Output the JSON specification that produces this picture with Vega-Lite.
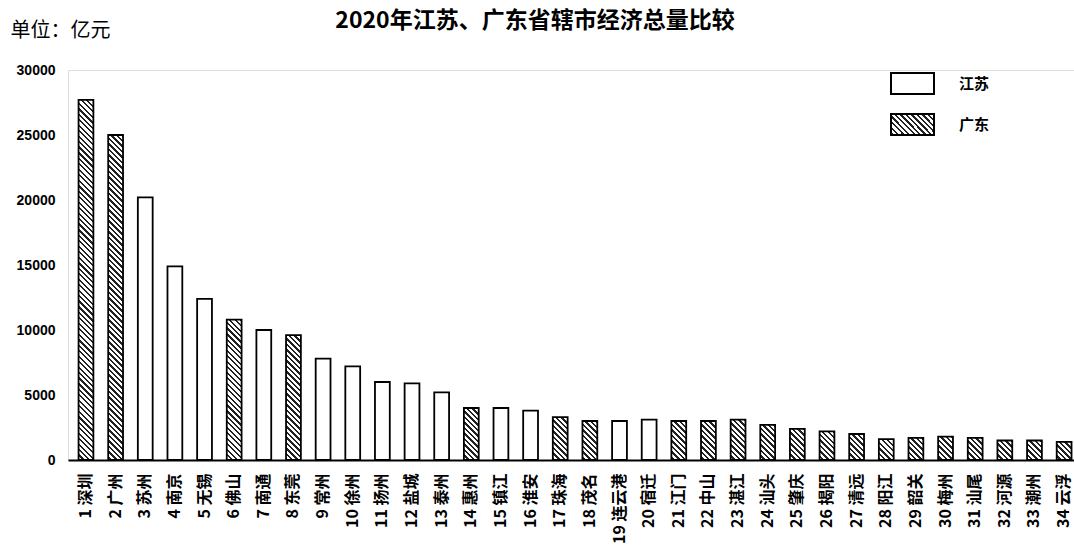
{
  "$schema": "https://vega.github.io/schema/vega-lite/v6.json",
  "autosize": "none",
  "width": 1006,
  "height": 390,
  "padding": {"left": 68, "top": 70, "right": 0, "bottom": 95},
  "background": "white",
  "title": {
    "text": "2020年江苏、广东省辖市经济总量比较",
    "anchor": "middle",
    "frame": "group",
    "dx": -36,
    "dy": 17,
    "font": "Noto Sans CJK SC",
    "fontSize": 23,
    "fontWeight": "bold",
    "color": "black"
  },
  "params": [
    {
      "name": "hatch",
      "value": [
        {"offset":0,"color":"#222"},{"offset":0.0064,"color":"#222"},{"offset":0.0064,"color":"#fff"},{"offset":0.0143,"color":"#fff"},
        {"offset":0.0143,"color":"#222"},{"offset":0.0207,"color":"#222"},{"offset":0.0207,"color":"#fff"},{"offset":0.0286,"color":"#fff"},
        {"offset":0.0286,"color":"#222"},{"offset":0.035,"color":"#222"},{"offset":0.035,"color":"#fff"},{"offset":0.0429,"color":"#fff"},
        {"offset":0.0429,"color":"#222"},{"offset":0.0493,"color":"#222"},{"offset":0.0493,"color":"#fff"},{"offset":0.0571,"color":"#fff"},
        {"offset":0.0571,"color":"#222"},{"offset":0.0636,"color":"#222"},{"offset":0.0636,"color":"#fff"},{"offset":0.0714,"color":"#fff"},
        {"offset":0.0714,"color":"#222"},{"offset":0.0779,"color":"#222"},{"offset":0.0779,"color":"#fff"},{"offset":0.0857,"color":"#fff"},
        {"offset":0.0857,"color":"#222"},{"offset":0.0921,"color":"#222"},{"offset":0.0921,"color":"#fff"},{"offset":0.1,"color":"#fff"},
        {"offset":0.1,"color":"#222"},{"offset":0.1064,"color":"#222"},{"offset":0.1064,"color":"#fff"},{"offset":0.1143,"color":"#fff"},
        {"offset":0.1143,"color":"#222"},{"offset":0.1207,"color":"#222"},{"offset":0.1207,"color":"#fff"},{"offset":0.1286,"color":"#fff"},
        {"offset":0.1286,"color":"#222"},{"offset":0.135,"color":"#222"},{"offset":0.135,"color":"#fff"},{"offset":0.1429,"color":"#fff"},
        {"offset":0.1429,"color":"#222"},{"offset":0.1493,"color":"#222"},{"offset":0.1493,"color":"#fff"},{"offset":0.1571,"color":"#fff"},
        {"offset":0.1571,"color":"#222"},{"offset":0.1636,"color":"#222"},{"offset":0.1636,"color":"#fff"},{"offset":0.1714,"color":"#fff"},
        {"offset":0.1714,"color":"#222"},{"offset":0.1779,"color":"#222"},{"offset":0.1779,"color":"#fff"},{"offset":0.1857,"color":"#fff"},
        {"offset":0.1857,"color":"#222"},{"offset":0.1921,"color":"#222"},{"offset":0.1921,"color":"#fff"},{"offset":0.2,"color":"#fff"},
        {"offset":0.2,"color":"#222"},{"offset":0.2064,"color":"#222"},{"offset":0.2064,"color":"#fff"},{"offset":0.2143,"color":"#fff"},
        {"offset":0.2143,"color":"#222"},{"offset":0.2207,"color":"#222"},{"offset":0.2207,"color":"#fff"},{"offset":0.2286,"color":"#fff"},
        {"offset":0.2286,"color":"#222"},{"offset":0.235,"color":"#222"},{"offset":0.235,"color":"#fff"},{"offset":0.2429,"color":"#fff"},
        {"offset":0.2429,"color":"#222"},{"offset":0.2493,"color":"#222"},{"offset":0.2493,"color":"#fff"},{"offset":0.2571,"color":"#fff"},
        {"offset":0.2571,"color":"#222"},{"offset":0.2636,"color":"#222"},{"offset":0.2636,"color":"#fff"},{"offset":0.2714,"color":"#fff"},
        {"offset":0.2714,"color":"#222"},{"offset":0.2779,"color":"#222"},{"offset":0.2779,"color":"#fff"},{"offset":0.2857,"color":"#fff"},
        {"offset":0.2857,"color":"#222"},{"offset":0.2921,"color":"#222"},{"offset":0.2921,"color":"#fff"},{"offset":0.3,"color":"#fff"},
        {"offset":0.3,"color":"#222"},{"offset":0.3064,"color":"#222"},{"offset":0.3064,"color":"#fff"},{"offset":0.3143,"color":"#fff"},
        {"offset":0.3143,"color":"#222"},{"offset":0.3207,"color":"#222"},{"offset":0.3207,"color":"#fff"},{"offset":0.3286,"color":"#fff"},
        {"offset":0.3286,"color":"#222"},{"offset":0.335,"color":"#222"},{"offset":0.335,"color":"#fff"},{"offset":0.3429,"color":"#fff"},
        {"offset":0.3429,"color":"#222"},{"offset":0.3493,"color":"#222"},{"offset":0.3493,"color":"#fff"},{"offset":0.3571,"color":"#fff"},
        {"offset":0.3571,"color":"#222"},{"offset":0.3636,"color":"#222"},{"offset":0.3636,"color":"#fff"},{"offset":0.3714,"color":"#fff"},
        {"offset":0.3714,"color":"#222"},{"offset":0.3779,"color":"#222"},{"offset":0.3779,"color":"#fff"},{"offset":0.3857,"color":"#fff"},
        {"offset":0.3857,"color":"#222"},{"offset":0.3921,"color":"#222"},{"offset":0.3921,"color":"#fff"},{"offset":0.4,"color":"#fff"},
        {"offset":0.4,"color":"#222"},{"offset":0.4064,"color":"#222"},{"offset":0.4064,"color":"#fff"},{"offset":0.4143,"color":"#fff"},
        {"offset":0.4143,"color":"#222"},{"offset":0.4207,"color":"#222"},{"offset":0.4207,"color":"#fff"},{"offset":0.4286,"color":"#fff"},
        {"offset":0.4286,"color":"#222"},{"offset":0.435,"color":"#222"},{"offset":0.435,"color":"#fff"},{"offset":0.4429,"color":"#fff"},
        {"offset":0.4429,"color":"#222"},{"offset":0.4493,"color":"#222"},{"offset":0.4493,"color":"#fff"},{"offset":0.4571,"color":"#fff"},
        {"offset":0.4571,"color":"#222"},{"offset":0.4636,"color":"#222"},{"offset":0.4636,"color":"#fff"},{"offset":0.4714,"color":"#fff"},
        {"offset":0.4714,"color":"#222"},{"offset":0.4779,"color":"#222"},{"offset":0.4779,"color":"#fff"},{"offset":0.4857,"color":"#fff"},
        {"offset":0.4857,"color":"#222"},{"offset":0.4921,"color":"#222"},{"offset":0.4921,"color":"#fff"},{"offset":0.5,"color":"#fff"},
        {"offset":0.5,"color":"#222"},{"offset":0.5064,"color":"#222"},{"offset":0.5064,"color":"#fff"},{"offset":0.5143,"color":"#fff"},
        {"offset":0.5143,"color":"#222"},{"offset":0.5207,"color":"#222"},{"offset":0.5207,"color":"#fff"},{"offset":0.5286,"color":"#fff"},
        {"offset":0.5286,"color":"#222"},{"offset":0.535,"color":"#222"},{"offset":0.535,"color":"#fff"},{"offset":0.5429,"color":"#fff"},
        {"offset":0.5429,"color":"#222"},{"offset":0.5493,"color":"#222"},{"offset":0.5493,"color":"#fff"},{"offset":0.5571,"color":"#fff"},
        {"offset":0.5571,"color":"#222"},{"offset":0.5636,"color":"#222"},{"offset":0.5636,"color":"#fff"},{"offset":0.5714,"color":"#fff"},
        {"offset":0.5714,"color":"#222"},{"offset":0.5779,"color":"#222"},{"offset":0.5779,"color":"#fff"},{"offset":0.5857,"color":"#fff"},
        {"offset":0.5857,"color":"#222"},{"offset":0.5921,"color":"#222"},{"offset":0.5921,"color":"#fff"},{"offset":0.6,"color":"#fff"},
        {"offset":0.6,"color":"#222"},{"offset":0.6064,"color":"#222"},{"offset":0.6064,"color":"#fff"},{"offset":0.6143,"color":"#fff"},
        {"offset":0.6143,"color":"#222"},{"offset":0.6207,"color":"#222"},{"offset":0.6207,"color":"#fff"},{"offset":0.6286,"color":"#fff"},
        {"offset":0.6286,"color":"#222"},{"offset":0.635,"color":"#222"},{"offset":0.635,"color":"#fff"},{"offset":0.6429,"color":"#fff"},
        {"offset":0.6429,"color":"#222"},{"offset":0.6493,"color":"#222"},{"offset":0.6493,"color":"#fff"},{"offset":0.6571,"color":"#fff"},
        {"offset":0.6571,"color":"#222"},{"offset":0.6636,"color":"#222"},{"offset":0.6636,"color":"#fff"},{"offset":0.6714,"color":"#fff"},
        {"offset":0.6714,"color":"#222"},{"offset":0.6779,"color":"#222"},{"offset":0.6779,"color":"#fff"},{"offset":0.6857,"color":"#fff"},
        {"offset":0.6857,"color":"#222"},{"offset":0.6921,"color":"#222"},{"offset":0.6921,"color":"#fff"},{"offset":0.7,"color":"#fff"},
        {"offset":0.7,"color":"#222"},{"offset":0.7064,"color":"#222"},{"offset":0.7064,"color":"#fff"},{"offset":0.7143,"color":"#fff"},
        {"offset":0.7143,"color":"#222"},{"offset":0.7207,"color":"#222"},{"offset":0.7207,"color":"#fff"},{"offset":0.7286,"color":"#fff"},
        {"offset":0.7286,"color":"#222"},{"offset":0.735,"color":"#222"},{"offset":0.735,"color":"#fff"},{"offset":0.7429,"color":"#fff"},
        {"offset":0.7429,"color":"#222"},{"offset":0.7493,"color":"#222"},{"offset":0.7493,"color":"#fff"},{"offset":0.7571,"color":"#fff"},
        {"offset":0.7571,"color":"#222"},{"offset":0.7636,"color":"#222"},{"offset":0.7636,"color":"#fff"},{"offset":0.7714,"color":"#fff"},
        {"offset":0.7714,"color":"#222"},{"offset":0.7779,"color":"#222"},{"offset":0.7779,"color":"#fff"},{"offset":0.7857,"color":"#fff"},
        {"offset":0.7857,"color":"#222"},{"offset":0.7921,"color":"#222"},{"offset":0.7921,"color":"#fff"},{"offset":0.8,"color":"#fff"},
        {"offset":0.8,"color":"#222"},{"offset":0.8064,"color":"#222"},{"offset":0.8064,"color":"#fff"},{"offset":0.8143,"color":"#fff"},
        {"offset":0.8143,"color":"#222"},{"offset":0.8207,"color":"#222"},{"offset":0.8207,"color":"#fff"},{"offset":0.8286,"color":"#fff"},
        {"offset":0.8286,"color":"#222"},{"offset":0.835,"color":"#222"},{"offset":0.835,"color":"#fff"},{"offset":0.8429,"color":"#fff"},
        {"offset":0.8429,"color":"#222"},{"offset":0.8493,"color":"#222"},{"offset":0.8493,"color":"#fff"},{"offset":0.8571,"color":"#fff"},
        {"offset":0.8571,"color":"#222"},{"offset":0.8636,"color":"#222"},{"offset":0.8636,"color":"#fff"},{"offset":0.8714,"color":"#fff"},
        {"offset":0.8714,"color":"#222"},{"offset":0.8779,"color":"#222"},{"offset":0.8779,"color":"#fff"},{"offset":0.8857,"color":"#fff"},
        {"offset":0.8857,"color":"#222"},{"offset":0.8921,"color":"#222"},{"offset":0.8921,"color":"#fff"},{"offset":0.9,"color":"#fff"},
        {"offset":0.9,"color":"#222"},{"offset":0.9064,"color":"#222"},{"offset":0.9064,"color":"#fff"},{"offset":0.9143,"color":"#fff"},
        {"offset":0.9143,"color":"#222"},{"offset":0.9207,"color":"#222"},{"offset":0.9207,"color":"#fff"},{"offset":0.9286,"color":"#fff"},
        {"offset":0.9286,"color":"#222"},{"offset":0.935,"color":"#222"},{"offset":0.935,"color":"#fff"},{"offset":0.9429,"color":"#fff"},
        {"offset":0.9429,"color":"#222"},{"offset":0.9493,"color":"#222"},{"offset":0.9493,"color":"#fff"},{"offset":0.9571,"color":"#fff"},
        {"offset":0.9571,"color":"#222"},{"offset":0.9636,"color":"#222"},{"offset":0.9636,"color":"#fff"},{"offset":0.9714,"color":"#fff"},
        {"offset":0.9714,"color":"#222"},{"offset":0.9779,"color":"#222"},{"offset":0.9779,"color":"#fff"},{"offset":0.9857,"color":"#fff"},
        {"offset":0.9857,"color":"#222"},{"offset":0.9921,"color":"#222"},{"offset":0.9921,"color":"#fff"},{"offset":1,"color":"#fff"}
      ]
    }
  ],
  "data": {
    "values": [
      {"label": "1 深圳", "prov": "广东", "gdp": 27700},
      {"label": "2 广州", "prov": "广东", "gdp": 25000},
      {"label": "3 苏州", "prov": "江苏", "gdp": 20200},
      {"label": "4 南京", "prov": "江苏", "gdp": 14900},
      {"label": "5 无锡", "prov": "江苏", "gdp": 12400},
      {"label": "6 佛山", "prov": "广东", "gdp": 10800},
      {"label": "7 南通", "prov": "江苏", "gdp": 10000},
      {"label": "8 东莞", "prov": "广东", "gdp": 9600},
      {"label": "9 常州", "prov": "江苏", "gdp": 7800},
      {"label": "10 徐州", "prov": "江苏", "gdp": 7200},
      {"label": "11 扬州", "prov": "江苏", "gdp": 6000},
      {"label": "12 盐城", "prov": "江苏", "gdp": 5900},
      {"label": "13 泰州", "prov": "江苏", "gdp": 5200},
      {"label": "14 惠州", "prov": "广东", "gdp": 4000},
      {"label": "15 镇江", "prov": "江苏", "gdp": 4000},
      {"label": "16 淮安", "prov": "江苏", "gdp": 3800},
      {"label": "17 珠海", "prov": "广东", "gdp": 3300},
      {"label": "18 茂名", "prov": "广东", "gdp": 3000},
      {"label": "19 连云港", "prov": "江苏", "gdp": 3000},
      {"label": "20 宿迁", "prov": "江苏", "gdp": 3100},
      {"label": "21 江门", "prov": "广东", "gdp": 3000},
      {"label": "22 中山", "prov": "广东", "gdp": 3000},
      {"label": "23 湛江", "prov": "广东", "gdp": 3100},
      {"label": "24 汕头", "prov": "广东", "gdp": 2700},
      {"label": "25 肇庆", "prov": "广东", "gdp": 2400},
      {"label": "26 揭阳", "prov": "广东", "gdp": 2200},
      {"label": "27 清远", "prov": "广东", "gdp": 2000},
      {"label": "28 阳江", "prov": "广东", "gdp": 1600},
      {"label": "29 韶关", "prov": "广东", "gdp": 1700},
      {"label": "30 梅州", "prov": "广东", "gdp": 1800},
      {"label": "31 汕尾", "prov": "广东", "gdp": 1700},
      {"label": "32 河源", "prov": "广东", "gdp": 1500},
      {"label": "33 潮州", "prov": "广东", "gdp": 1500},
      {"label": "34 云浮", "prov": "广东", "gdp": 1400}
    ]
  },
  "mark": {
    "type": "bar",
    "strokeWidth": 1.8,
    "fill": {
      "expr": "datum.prov == '广东' ? {gradient: 'linear', x1: 1, y1: 0, x2: 1 - 385 * bandwidth('x') / (pow(bandwidth('x'), 2) + pow(scale('y', 0) - scale('y', datum.gdp), 2)), y2: 385 * (scale('y', 0) - scale('y', datum.gdp)) / (pow(bandwidth('x'), 2) + pow(scale('y', 0) - scale('y', datum.gdp), 2)), stops: hatch} : datum.value == '广东' ? {gradient: 'linear', x1: 1, y1: 0, x2: -6.229, y2: 3.531, stops: hatch} : 'white'"
    }
  },
  "encoding": {
    "x": {
      "field": "label",
      "type": "nominal",
      "sort": null,
      "scale": {"paddingInner": 0.5, "paddingOuter": 0.22, "align": 0.81},
      "axis": {
        "title": null,
        "domainColor": "black",
        "domainWidth": 2,
        "ticks": false,
        "tickSize": 0,
        "labelAngle": 270,
        "labelAlign": "right",
        "labelBaseline": "middle",
        "labelPadding": 13,
        "labelOverlap": false,
        "labelFont": "Noto Sans CJK SC",
        "labelFontSize": 16,
        "labelFontWeight": "bold",
        "labelColor": "black"
      }
    },
    "y": {
      "field": "gdp",
      "type": "quantitative",
      "scale": {"domain": [0, 30000], "nice": false},
      "axis": {
        "title": "单位：亿元",
        "titleAngle": 0,
        "titleAlign": "left",
        "titleBaseline": "middle",
        "titleX": -58,
        "titleY": -40,
        "titleFont": "Noto Sans CJK SC",
        "titleFontSize": 20,
        "titleFontWeight": "normal",
        "titleColor": "black",
        "domain": false,
        "ticks": false,
        "tickSize": 0,
        "grid": false,
        "format": "d",
        "values": [0, 5000, 10000, 15000, 20000, 25000, 30000],
        "labelPadding": 13,
        "labelFont": "Liberation Sans",
        "labelFontSize": 14,
        "labelFontWeight": "bold",
        "labelColor": "black"
      }
    },
    "stroke": {
      "field": "prov",
      "type": "nominal",
      "scale": {"domain": ["江苏", "广东"], "range": ["black", "black"]},
      "legend": {
        "title": null,
        "orient": "none",
        "legendX": 822,
        "legendY": -9,
        "padding": 0,
        "rowPadding": 3,
        "symbolType": "M-1,-0.49H1V0.49H-1Z",
        "symbolSize": 1849,
        "symbolStrokeWidth": 2,
        "labelOffset": 24,
        "labelFont": "Noto Sans CJK SC",
        "labelFontSize": 15,
        "labelFontWeight": "bold",
        "labelColor": "black"
      }
    }
  }
}
